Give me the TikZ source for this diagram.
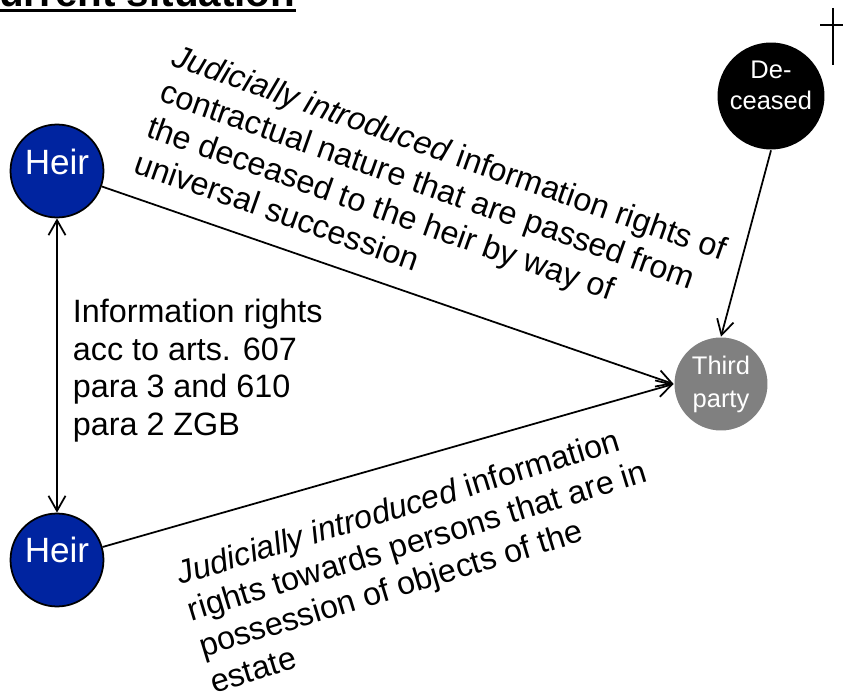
\documentclass[tikz,border=0pt]{standalone}
\usepackage{fontspec}
\setmainfont{Liberation Sans}
\usetikzlibrary{arrows.meta}
\definecolor{heirblue}{RGB}{0,36,160}
\definecolor{thirdgray}{RGB}{128,128,128}

\begin{document}
\begin{tikzpicture}[x=0.02cm, y=-0.02cm, line width=1pt,
    >={Straight Barb[length=0.3cm, width=0.34cm]},
    person/.style={circle, inner sep=0pt, align=center, text=white},
    personname/.style={inner sep=0pt, align=center, text=white},
    rightslabel/.style={inner sep=0pt, align=left, font=\fontsize{18.4}{21.5}\selectfont}]
  \useasboundingbox (0,0) rectangle (843,696);

  % Title (cut at the top)
  \node [anchor=base west, inner sep=0pt, font=\fontsize{23}{27}\selectfont\bfseries] (title) at (-31,7) {Current situation};
  \draw [line width=0.06cm] ([yshift=-0.08cm]title.base west) -- ([yshift=-0.08cm]title.base east);

  % Persons
  \node [person, draw=black, fill=heirblue, minimum size=1.86cm] (heirTop) at (57,171) {};
  \node [personname, font=\fontsize{20}{24}\selectfont] (heirTopName) at ([yshift=0.18cm]heirTop.center) {Heir};
  \node [person, draw=black, fill=heirblue, minimum size=1.86cm] (heirBottom) at (57,560) {};
  \node [personname, font=\fontsize{20}{24}\selectfont] (heirBottomName) at ([yshift=0.2cm]heirBottom.center) {Heir};
  \node [person, fill=black, minimum size=2.14cm] (deceased) at (771,96) {};
  \node [personname, font=\fontsize{14.5}{17.5}\selectfont] (deceasedName) at ([yshift=0.22cm]deceased.center) {De-\\ceased};
  \node [person, fill=thirdgray, minimum size=1.86cm, font=\fontsize{14.5}{18.7}\selectfont] (third) at (721,384) {Third\\party};

  % Cross
  \draw (833,8) -- (833,65);
  \draw (820,25) -- (843,25);

  % Arrows
  \draw [<->] (heirTop) -- (heirBottom);
  \draw [->] (heirTop) -- (third.west);
  \draw [->] (heirBottom) -- (third.west);
  \draw [->] (deceased.south) -- (third.north);

  % Labels
  \node [rightslabel, anchor=north west] (statute) at (72,298) {Information rights\\acc to arts. 607\\para 3 and 610\\para 2 ZGB};
  \node [rightslabel, anchor=north west, rotate=-19.5] (inherited) at (178,42) {\textit{Judicially introduced} information rights of\\contractual nature that are passed from\\the deceased to the heir by way of\\universal succession};
  \node [rightslabel, anchor=north west, rotate=17] (possessors) at (173,562) {\textit{Judicially introduced} information\\rights towards persons that are in\\possession of objects of the\\estate};
\end{tikzpicture}
\end{document}
